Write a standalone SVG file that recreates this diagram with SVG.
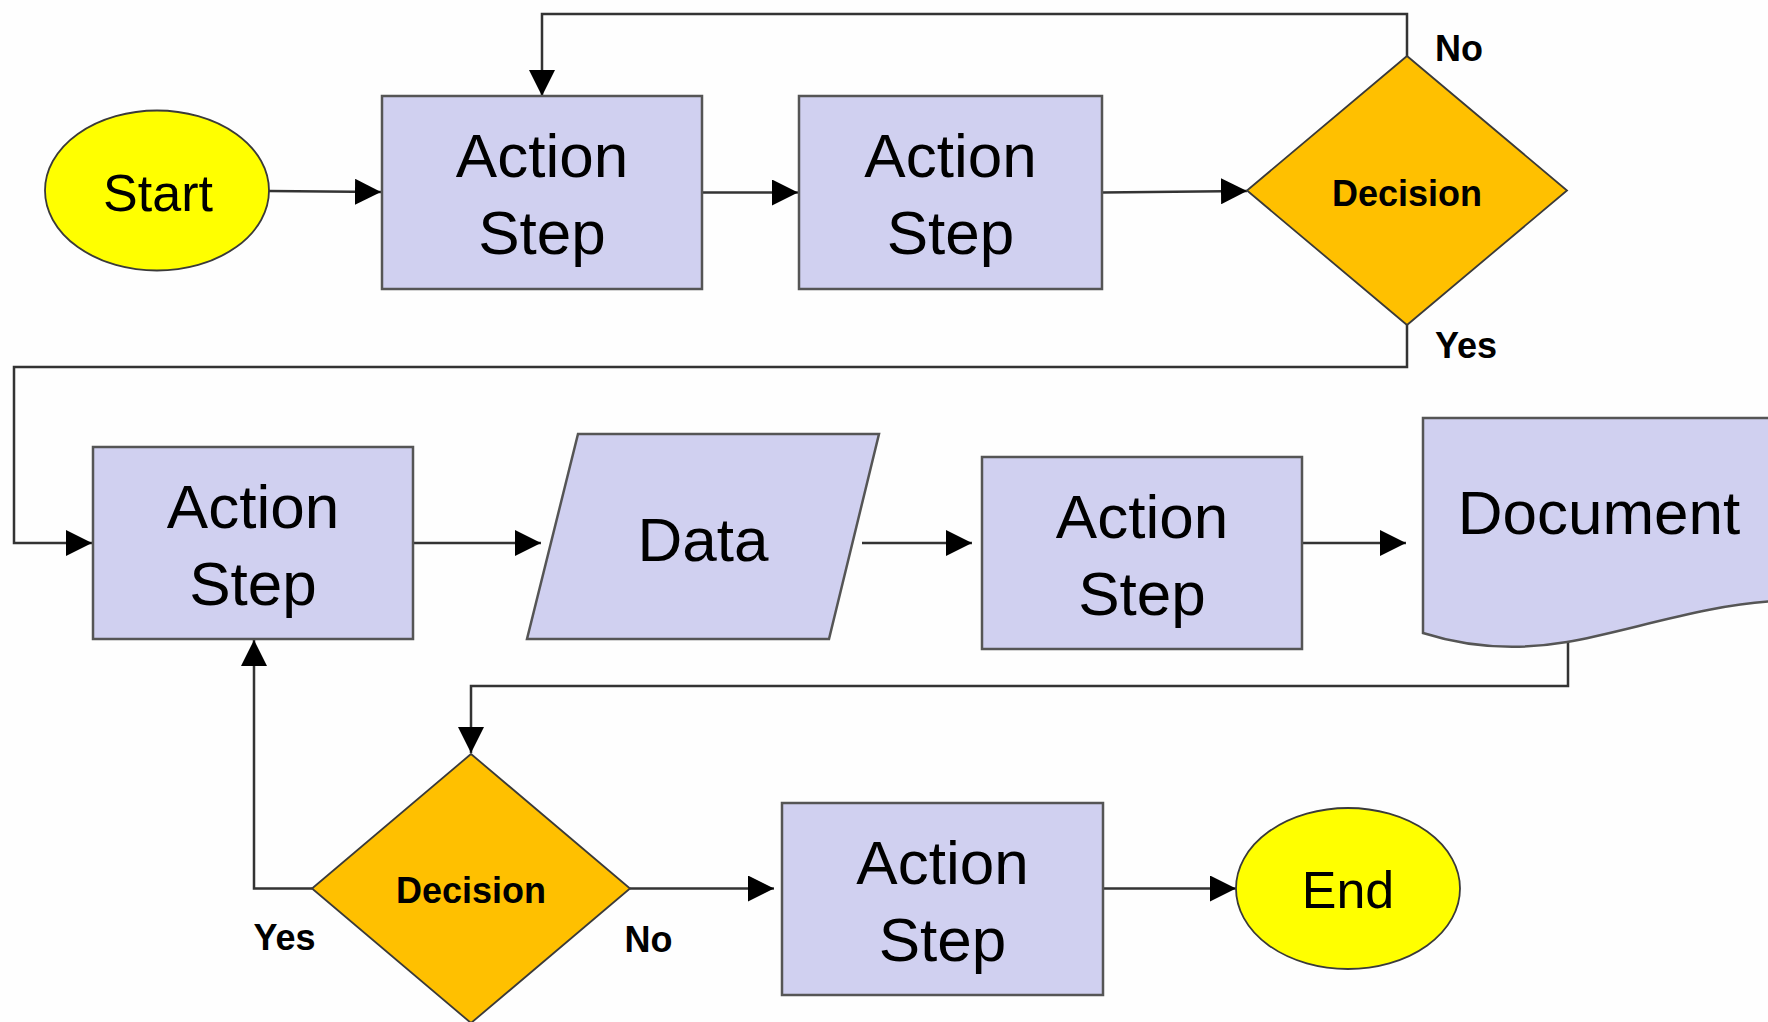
<svg xmlns="http://www.w3.org/2000/svg" width="1768" height="1022" viewBox="0 0 1768 1022">
<style>
.bg{fill:#fefefe}
.act{fill:#d0d0f0;stroke:#555;stroke-width:2.5}
.dec{fill:#ffc000;stroke:#3a3a3a;stroke-width:1.8}
.term{fill:#ffff00;stroke:#3a3a3a;stroke-width:1.8}
.big{font-family:"Liberation Sans",Arial,sans-serif;font-size:62px;fill:#000;text-anchor:middle}
.term-t{font-family:"Liberation Sans",Arial,sans-serif;font-size:52px;fill:#000;text-anchor:middle}
.dec-t{font-family:"Liberation Sans",Arial,sans-serif;font-size:36px;font-weight:bold;fill:#000;text-anchor:middle}
.lbl{font-family:"Liberation Sans",Arial,sans-serif;font-size:36px;font-weight:bold;fill:#000}
.conn path{fill:none;stroke:#333;stroke-width:2.5;marker-end:url(#ah)}
</style>
<defs>
<marker id="ah" markerUnits="userSpaceOnUse" markerWidth="26" markerHeight="26" refX="26" refY="13" orient="auto">
<path d="M0,0 L26,13 L0,26 Z" fill="#000"/>
</marker>
</defs>
<rect class="bg" x="0" y="0" width="1768" height="1022"/>

<g id="connectors" class="conn">
<path d="M269,191 L381,192"/>
<path d="M702,192.5 L798,192.5"/>
<path d="M1102,192.5 L1247,191"/>
<path d="M1407,56 V14 H542 V96"/>
<path d="M1407,325 V367 H14 V543 H92"/>
<path d="M413,543 H541"/>
<path d="M862,543 H972"/>
<path d="M1302,543 H1406"/>
<path d="M1568,642 V686 H471 V753"/>
<path d="M312,888.5 H254 V640"/>
<path d="M630,888.5 H774"/>
<path d="M1103,888.5 H1236"/>
</g>

<g id="start">
<ellipse class="term" cx="157" cy="190.5" rx="112" ry="80"/>
<text class="term-t" x="158" y="211">Start</text>
</g>

<g id="action1">
<rect class="act" x="382" y="96" width="320" height="193"/>
<text class="big" x="542" y="177">Action</text>
<text class="big" x="542" y="254">Step</text>
</g>

<g id="action2">
<rect class="act" x="799" y="96" width="303" height="193"/>
<text class="big" x="950.5" y="177">Action</text>
<text class="big" x="950.5" y="254">Step</text>
</g>

<g id="decision1">
<polygon class="dec" points="1407,56 1567,190.5 1407,325 1247,190.5"/>
<text class="dec-t" x="1407" y="205.5">Decision</text>
<text class="lbl" x="1435" y="60.5">No</text>
<text class="lbl" x="1435" y="358">Yes</text>
</g>

<g id="action3">
<rect class="act" x="93" y="447" width="320" height="192"/>
<text class="big" x="253" y="528">Action</text>
<text class="big" x="253" y="605">Step</text>
</g>

<g id="data">
<polygon class="act" points="578,434 879,434 829,639 527,639"/>
<text class="big" x="703" y="561">Data</text>
</g>

<g id="action4">
<rect class="act" x="982" y="457" width="320" height="192"/>
<text class="big" x="1142" y="538">Action</text>
<text class="big" x="1142" y="615">Step</text>
</g>

<g id="document">
<path class="act" d="M1423,633 V418 H1780 V601 C1710,603 1627,631.8 1567,642 C1520,650 1470,648 1423,633 Z"/>
<text class="big" x="1599" y="534">Document</text>
</g>

<g id="decision2">
<polygon class="dec" points="471,754 630,888.5 471,1023 312,888.5"/>
<text class="dec-t" x="471" y="903">Decision</text>
<text class="lbl" x="253.5" y="950">Yes</text>
<text class="lbl" x="624.5" y="952">No</text>
</g>

<g id="action5">
<rect class="act" x="782" y="803" width="321" height="192"/>
<text class="big" x="942.5" y="884">Action</text>
<text class="big" x="942.5" y="961">Step</text>
</g>

<g id="end">
<ellipse class="term" cx="1348" cy="888.5" rx="112" ry="80.5"/>
<text class="term-t" x="1348" y="908">End</text>
</g>
</svg>
